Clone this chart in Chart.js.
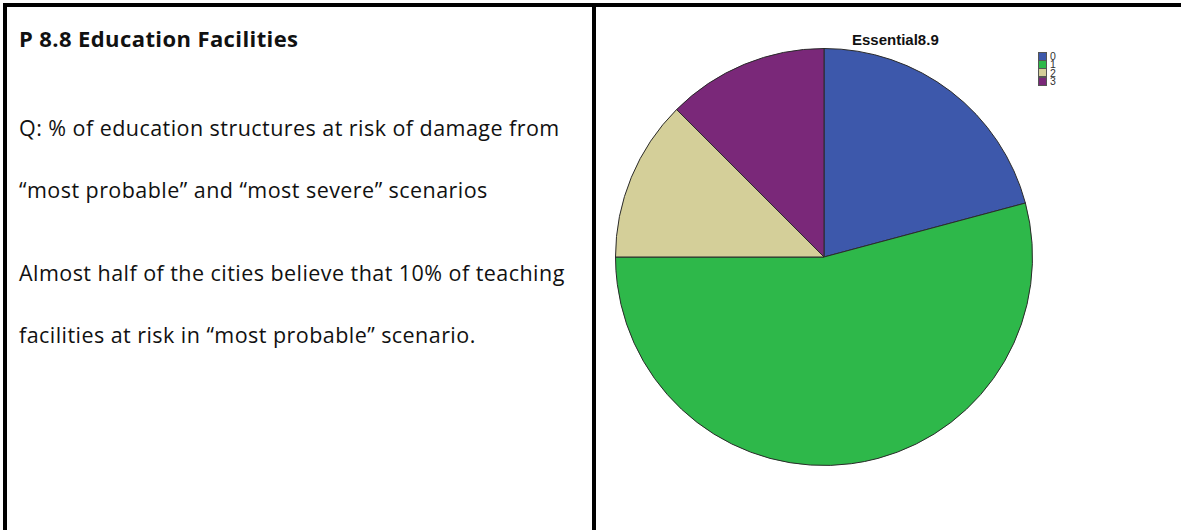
<!DOCTYPE html>
<html>
<head>
<meta charset="utf-8">
<title>Essential8.9</title>
<script src="https://cdn.jsdelivr.net/npm/chart.js@4.4.1/dist/chart.umd.min.js"></script>
<style>
  html, body { margin: 0; padding: 0; background: #fff; }
  body { width: 1181px; height: 530px; position: relative; overflow: hidden; }
  .frame-top { position: absolute; left: 3px; top: 3px; width: 1178px; height: 4px; background: #000; }
  .frame-left { position: absolute; left: 3px; top: 3px; width: 4px; height: 527px; background: #000; }
  .frame-mid { position: absolute; left: 592px; top: 3px; width: 4px; height: 527px; background: #000; }
  .notes { position: absolute; left: 19px; top: 0; width: 570px; font-family: "Open Sans", sans-serif; color: #111; }
  .notes div { position: absolute; left: 0; white-space: nowrap; font-size: 21.5px; line-height: 30px; letter-spacing: 0.45px; }
  .notes .head { font-weight: bold; font-size: 22px; letter-spacing: 0.4px; }
  #pieWrap { position: absolute; left: 604px; top: 37px; width: 440px; height: 440px; }
  .pie-title { position: absolute; left: 852px; top: 31px;
    font: bold 15px "Liberation Sans", Arial, sans-serif; color: #111; }
  .legend { position: absolute; left: 1038px; top: 52px; font: 10.5px "Liberation Sans", Arial, sans-serif; color: #333; }
  .legend .item { height: 8.4px; line-height: 8.4px; display: flex; align-items: center; }
  .legend .sw { width: 7px; height: 7px; border: 1px solid #555; margin-right: 3px; }
</style>
</head>
<body>
<div class="frame-top"></div>
<div class="frame-left"></div>
<div class="frame-mid"></div>

<div class="notes">
  <div class="head" style="top:23px">P 8.8 Education Facilities</div>
  <div style="top:113px">Q: % of education structures at risk of damage from</div>
  <div style="top:175px">“most probable” and “most severe” scenarios</div>
  <div style="top:258px">Almost half of the cities believe that 10% of teaching</div>
  <div style="top:320px">facilities at risk in “most probable” scenario.</div>
</div>

<div class="pie-title">Essential8.9</div>
<div class="legend" id="legend"></div>
<div id="pieWrap"><canvas id="pieChart"></canvas></div>

<script>
// answer codes and how many cities gave each
const categories = ['0', '1', '2', '3'];
const counts = [5, 13, 3, 3];
const sliceColors = ['#3d58ab', '#2eb84a', '#d4cf99', '#7a2879'];

// legend built from the same labels and colours
const legend = document.getElementById('legend');
categories.forEach((label, i) => {
  const item = document.createElement('div');
  item.className = 'item';
  item.innerHTML = '<span class="sw" style="background:' + sliceColors[i] + '"></span>' + label;
  legend.appendChild(item);
});

const pieCtx = document.getElementById('pieChart').getContext('2d');
const pieChart = new Chart(pieCtx, {
  type: 'pie',
  data: {
    labels: categories,
    datasets: [{
      label: 'Essential8.9',
      data: counts,
      backgroundColor: sliceColors,
      borderColor: '#2a2a2a',
      borderWidth: 1
    }]
  },
  options: {
    responsive: true,
    maintainAspectRatio: false,
    animation: false,
    layout: { padding: 11 },
    plugins: {
      legend: { display: false },
      title: { display: false },
      tooltip: { enabled: false }
    }
  }
});
</script>
</body>
</html>
